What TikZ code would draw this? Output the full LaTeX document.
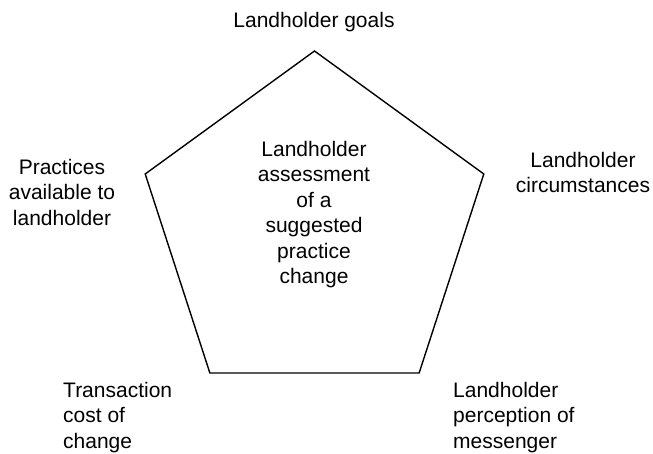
\documentclass[tikz,border=0pt]{standalone}
\usepackage{fontspec}
\setmainfont{Liberation Sans}
\usetikzlibrary{shapes.geometric}

\begin{document}
\begin{tikzpicture}[x=1pt, y=-1pt,
    lbl/.style={inner sep=0pt, font=\fontsize{21}{25.5}\selectfont}]
        \fill[white] (0,0) rectangle (653,454);
        \useasboundingbox (0,0) rectangle (653,454);
        \coordinate (Ctr) at (314.5,229);

        % the five factors sit round the pentagon
        \node[regular polygon, regular polygon sides=5, minimum size=356pt,
              inner sep=0pt, draw, line width=1.4pt] (Pent) at (Ctr) {};

        \node[lbl, anchor=north, align=center] (Assess) at (314,141)
            {Landholder\\assessment\\of a\\suggested\\practice\\change};
        \node[lbl, anchor=north] (Goals) at (314,12) {Landholder goals};
        \node[lbl, anchor=north, align=center] (Circ) at (583,152)
            {Landholder\\circumstances};
        \node[lbl, anchor=north, align=center] (Avail) at (62,159)
            {Practices\\available to\\landholder};
        \node[lbl, anchor=north west, align=left] (Trans) at (63,382)
            {Transaction\\cost of\\change};
        \node[lbl, anchor=north west, align=left] (Mess) at (453,382)
            {Landholder\\perception of\\messenger};
\end{tikzpicture}
\end{document}
